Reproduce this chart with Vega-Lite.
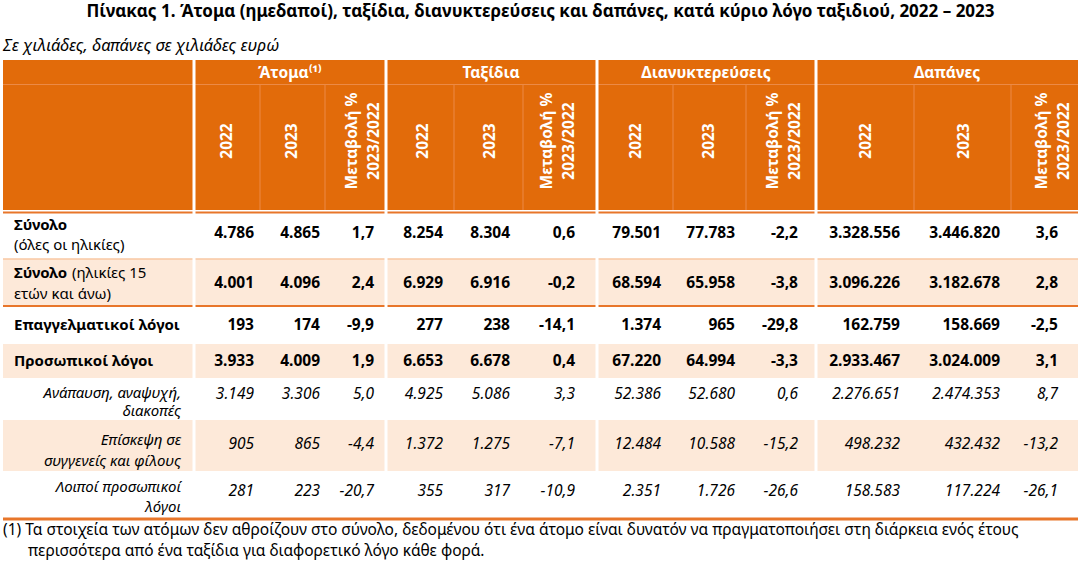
{
  "$schema": "https://vega.github.io/schema/vega-lite/v6.json",
  "width": 1081,
  "height": 561,
  "autosize": {"type": "fit", "contains": "padding"},
  "padding": 0,
  "background": "white",
  "config": {
    "view": {"stroke": null},
    "font": "Noto Sans",
    "axis": {"disable": true},
    "locale": {"number": {"decimal": ",", "thousands": ".", "grouping": [3], "currency": ["", " €"], "minus": "-"}}
  },
  "datasets": {
    "rows": [
      {"name": "Σύνολο", "desc1": null, "desc2": "(όλες οι ηλικίες)", "level": "total", "a22": 4786, "a23": 4865, "ach": 1.7, "t22": 8254, "t23": 8304, "tch": 0.6, "n22": 79501, "n23": 77783, "nch": -2.2, "d22": 3328556, "d23": 3446820, "dch": 3.6},
      {"name": "Σύνολο", "desc1": "(ηλικίες 15", "desc2": "ετών και άνω)", "level": "total", "a22": 4001, "a23": 4096, "ach": 2.4, "t22": 6929, "t23": 6916, "tch": -0.2, "n22": 68594, "n23": 65958, "nch": -3.8, "d22": 3096226, "d23": 3182678, "dch": 2.8},
      {"name": "Επαγγελματικοί λόγοι", "desc1": null, "desc2": null, "level": "main", "a22": 193, "a23": 174, "ach": -9.9, "t22": 277, "t23": 238, "tch": -14.1, "n22": 1374, "n23": 965, "nch": -29.8, "d22": 162759, "d23": 158669, "dch": -2.5},
      {"name": "Προσωπικοί λόγοι", "desc1": null, "desc2": null, "level": "main", "a22": 3933, "a23": 4009, "ach": 1.9, "t22": 6653, "t23": 6678, "tch": 0.4, "n22": 67220, "n23": 64994, "nch": -3.3, "d22": 2933467, "d23": 3024009, "dch": 3.1},
      {"name": "Ανάπαυση, αναψυχή,", "desc1": null, "desc2": "διακοπές", "level": "sub", "a22": 3149, "a23": 3306, "ach": 5.0, "t22": 4925, "t23": 5086, "tch": 3.3, "n22": 52386, "n23": 52680, "nch": 0.6, "d22": 2276651, "d23": 2474353, "dch": 8.7},
      {"name": "Επίσκεψη σε", "desc1": null, "desc2": "συγγενείς και φίλους", "level": "sub", "a22": 905, "a23": 865, "ach": -4.4, "t22": 1372, "t23": 1275, "tch": -7.1, "n22": 12484, "n23": 10588, "nch": -15.2, "d22": 498232, "d23": 432432, "dch": -13.2},
      {"name": "Λοιποί προσωπικοί", "desc1": null, "desc2": "λόγοι", "level": "sub", "a22": 281, "a23": 223, "ach": -20.7, "t22": 355, "t23": 317, "tch": -10.9, "n22": 2351, "n23": 1726, "nch": -26.6, "d22": 158583, "d23": 117224, "dch": -26.1}
    ],
    "cols": [
      {"key": "a22", "grp": "Άτομα⁽¹⁾", "head": "2022"},
      {"key": "a23", "grp": "Άτομα⁽¹⁾", "head": "2023"},
      {"key": "ach", "grp": "Άτομα⁽¹⁾", "head": ["Μεταβολή %", "2023/2022"]},
      {"key": "t22", "grp": "Ταξίδια", "head": "2022"},
      {"key": "t23", "grp": "Ταξίδια", "head": "2023"},
      {"key": "tch", "grp": "Ταξίδια", "head": ["Μεταβολή %", "2023/2022"]},
      {"key": "n22", "grp": "Διανυκτερεύσεις", "head": "2022"},
      {"key": "n23", "grp": "Διανυκτερεύσεις", "head": "2023"},
      {"key": "nch", "grp": "Διανυκτερεύσεις", "head": ["Μεταβολή %", "2023/2022"]},
      {"key": "d22", "grp": "Δαπάνες", "head": "2022"},
      {"key": "d23", "grp": "Δαπάνες", "head": "2023"},
      {"key": "dch", "grp": "Δαπάνες", "head": ["Μεταβολή %", "2023/2022"]}
    ],
    "notes": [
      {"text": "Πίνακας 1. Άτομα (ημεδαποί), ταξίδια, διανυκτερεύσεις και δαπάνες, κατά κύριο λόγο ταξιδιού, 2022 – 2023"},
      {"text": "Σε χιλιάδες, δαπάνες σε χιλιάδες ευρώ"},
      {"text": "(1) Τα στοιχεία των ατόμων δεν αθροίζουν στο σύνολο, δεδομένου ότι ένα άτομο είναι δυνατόν να πραγματοποιήσει στη διάρκεια ενός έτους"},
      {"text": "περισσότερα από ένα ταξίδια για διαφορετικό λόγο κάθε φορά."}
    ]
  },
  "resolve": {"scale": {"x": "independent", "y": "independent"}},
  "layer": [
    {
      "data": {"values": [{}]},
      "mark": {"type": "rect", "color": "#E26B0A"},
      "encoding": {
        "x": {"datum": 0, "type": "quantitative", "axis": null, "scale": {"domain": [0,1,2,3,4,5,6,7,8,9,10,11,12,13], "range": [3,194,260,325,386,454,523,597,673,746,816,914,1011,1078], "nice": false, "zero": false}},
        "x2": {"datum": 13},
        "y": {"datum": -3, "type": "quantitative", "axis": null, "scale": {"domain": [-3,-2,-1,0,1,2,3,4,5,6,7], "range": [60,84.5,210,212.5,259,306,344,378,420,471,519], "nice": false, "zero": false}},
        "y2": {"datum": -1}
      }
    },
    {
      "data": {"name": "rows"},
      "transform": [
        {"window": [{"op": "row_number", "as": "rn"}]},
        {"window": [{"op": "lag", "field": "rn", "as": "rtop"}], "sort": [{"field": "rn"}]},
        {"filter": "datum.rn % 2 == 0"}
      ],
      "mark": {"type": "rect", "color": "#FDE9D9"},
      "encoding": {
        "x": {"datum": 0, "type": "quantitative", "axis": null, "scale": {"domain": [0,1,2,3,4,5,6,7,8,9,10,11,12,13], "range": [3,194,260,325,386,454,523,597,673,746,816,914,1011,1078], "nice": false, "zero": false}},
        "x2": {"datum": 13},
        "y": {"field": "rtop", "type": "quantitative", "axis": null, "scale": {"domain": [-3,-2,-1,0,1,2,3,4,5,6,7], "range": [60,84.5,210,212.5,259,306,344,378,420,471,519], "nice": false, "zero": false}},
        "y2": {"field": "rn"}
      }
    },
    {
      "data": {"values": [{}]},
      "mark": {"type": "rule", "color": "#EC8A46", "strokeWidth": 1},
      "encoding": {
        "x": {"datum": 0, "type": "quantitative", "axis": null, "scale": {"domain": [0,1,2,3,4,5,6,7,8,9,10,11,12,13], "range": [3,194,260,325,386,454,523,597,673,746,816,914,1011,1078], "nice": false, "zero": false}},
        "x2": {"datum": 13},
        "y": {"datum": -2, "type": "quantitative", "axis": null, "scale": {"domain": [-3,-2,-1,0,1,2,3,4,5,6,7], "range": [60,84.5,210,212.5,259,306,344,378,420,471,519], "nice": false, "zero": false}}
      }
    },
    {
      "data": {"name": "cols"},
      "transform": [
        {"window": [{"op": "row_number", "as": "ci"}]},
        {"window": [{"op": "row_number", "as": "gi"}], "groupby": ["grp"]},
        {"filter": "datum.gi != 1"}
      ],
      "mark": {"type": "rule", "color": "#EC8A46", "strokeWidth": 1},
      "encoding": {
        "x": {"field": "ci", "type": "quantitative", "axis": null, "scale": {"domain": [0,1,2,3,4,5,6,7,8,9,10,11,12,13], "range": [3,194,260,325,386,454,523,597,673,746,816,914,1011,1078], "nice": false, "zero": false}},
        "y": {"datum": -2, "type": "quantitative", "axis": null, "scale": {"domain": [-3,-2,-1,0,1,2,3,4,5,6,7], "range": [60,84.5,210,212.5,259,306,344,378,420,471,519], "nice": false, "zero": false}},
        "y2": {"datum": -1}
      }
    },
    {
      "data": {"values": [{"edge": 0, "kind": "head"}, {"edge": 2, "kind": "total"}]},
      "mark": {"type": "rule", "color": "#E8762A", "strokeWidth": 2},
      "encoding": {
        "x": {"datum": 0, "type": "quantitative", "axis": null, "scale": {"domain": [0,1,2,3,4,5,6,7,8,9,10,11,12,13], "range": [3,194,260,325,386,454,523,597,673,746,816,914,1011,1078], "nice": false, "zero": false}},
        "x2": {"datum": 13},
        "y": {"field": "edge", "type": "quantitative", "axis": null, "scale": {"domain": [-3,-2,-1,0,1,2,3,4,5,6,7], "range": [60,84.5,210,212.5,259,306,344,378,420,471,519], "nice": false, "zero": false}}
      }
    },
    {
      "data": {"values": [{}]},
      "mark": {"type": "rule", "color": "#F8C7A2", "strokeWidth": 1.5},
      "encoding": {
        "x": {"datum": 0, "type": "quantitative", "axis": null, "scale": {"domain": [0,1,2,3,4,5,6,7,8,9,10,11,12,13], "range": [3,194,260,325,386,454,523,597,673,746,816,914,1011,1078], "nice": false, "zero": false}},
        "x2": {"datum": 13},
        "y": {"datum": 1, "type": "quantitative", "axis": null, "scale": {"domain": [-3,-2,-1,0,1,2,3,4,5,6,7], "range": [60,84.5,210,212.5,259,306,344,378,420,471,519], "nice": false, "zero": false}}
      }
    },
    {
      "data": {"name": "cols"},
      "transform": [
        {"window": [{"op": "row_number", "as": "ci"}]},
        {"window": [{"op": "row_number", "as": "gi"}], "groupby": ["grp"]},
        {"filter": "datum.gi == 1"}
      ],
      "mark": {"type": "rule", "color": "white", "strokeWidth": 3},
      "encoding": {
        "x": {"field": "ci", "type": "quantitative", "axis": null, "scale": {"domain": [0,1,2,3,4,5,6,7,8,9,10,11,12,13], "range": [3,194,260,325,386,454,523,597,673,746,816,914,1011,1078], "nice": false, "zero": false}},
        "y": {"datum": -3, "type": "quantitative", "axis": null, "scale": {"domain": [-3,-2,-1,0,1,2,3,4,5,6,7], "range": [60,84.5,210,212.5,259,306,344,378,420,471,519], "nice": false, "zero": false}},
        "y2": {"datum": 7}
      }
    },
    {
      "data": {"values": [{}]},
      "mark": {"type": "rule", "color": "#E8762A", "strokeWidth": 3},
      "encoding": {
        "x": {"datum": 0, "type": "quantitative", "axis": null, "scale": {"domain": [0,1,2,3,4,5,6,7,8,9,10,11,12,13], "range": [3,194,260,325,386,454,523,597,673,746,816,914,1011,1078], "nice": false, "zero": false}},
        "x2": {"datum": 13},
        "y": {"datum": 7, "type": "quantitative", "axis": null, "scale": {"domain": [-3,-2,-1,0,1,2,3,4,5,6,7], "range": [60,84.5,210,212.5,259,306,344,378,420,471,519], "nice": false, "zero": false}}
      }
    },
    {
      "data": {"name": "cols"},
      "transform": [
        {"window": [{"op": "row_number", "as": "ci"}]},
        {"window": [{"op": "row_number", "as": "gi"}], "groupby": ["grp"]},
        {"filter": "datum.gi == 2"}
      ],
      "mark": {"type": "text", "color": "white", "fontWeight": "bold", "fontSize": 15.5, "align": "center", "baseline": "middle"},
      "encoding": {
        "x": {"field": "ci", "type": "quantitative", "axis": null, "scale": {"domain": [2,5,8,11], "range": [290,491,706,947], "nice": false, "zero": false}},
        "y": {"datum": 0, "type": "quantitative", "axis": null, "scale": {"domain": [0,1], "range": [73,141], "nice": false, "zero": false}},
        "text": {"field": "grp"}
      }
    },
    {
      "data": {"name": "cols"},
      "transform": [{"window": [{"op": "row_number", "as": "ci"}]}],
      "mark": {"type": "text", "color": "white", "fontWeight": "bold", "fontSize": 15.5, "align": "center", "baseline": "middle", "angle": 270, "lineHeight": 22},
      "encoding": {
        "x": {"field": "ci", "type": "quantitative", "axis": null, "scale": {"domain": [1,2,3,4,5,6,7,8,9,10,11,12], "range": [227,292,351.5,423,490,547,636,709,773,866,964,1042], "nice": false, "zero": false}},
        "y": {"datum": 1, "type": "quantitative", "axis": null, "scale": {"domain": [0,1], "range": [73,141], "nice": false, "zero": false}},
        "text": {"field": "head"}
      }
    },
    {
      "data": {"name": "rows"},
      "transform": [{"window": [{"op": "row_number", "as": "rn"}]}, {"filter": "datum.level != 'sub'"}],
      "mark": {"type": "text", "color": "black", "fontWeight": "bold", "fontSize": 15, "align": "left", "baseline": "middle", "dx": 11},
      "encoding": {
        "x": {"datum": 0, "type": "quantitative", "axis": null, "scale": {"domain": [0,1,2,3,4,5,6,7,8,9,10,11,12,13], "range": [3,194,260,325,386,454,523,597,673,746,816,914,1011,1078], "nice": false, "zero": false}},
        "y": {"field": "rn", "type": "quantitative", "axis": null, "scale": {"domain": [1,2,3,4,5,6,7], "range": [225,273,325,361,393,440,487], "nice": false, "zero": false}},
        "text": {"field": "name"}
      }
    },
    {
      "data": {"name": "rows"},
      "transform": [{"window": [{"op": "row_number", "as": "rn"}]}, {"filter": "isValid(datum.desc1)"}],
      "mark": {"type": "text", "color": "black", "fontSize": 15, "align": "left", "baseline": "middle", "dx": 69},
      "encoding": {
        "x": {"datum": 0, "type": "quantitative", "axis": null, "scale": {"domain": [0,1,2,3,4,5,6,7,8,9,10,11,12,13], "range": [3,194,260,325,386,454,523,597,673,746,816,914,1011,1078], "nice": false, "zero": false}},
        "y": {"field": "rn", "type": "quantitative", "axis": null, "scale": {"domain": [1,2,3,4,5,6,7], "range": [225,273,325,361,393,440,487], "nice": false, "zero": false}},
        "text": {"field": "desc1"}
      }
    },
    {
      "data": {"name": "rows"},
      "transform": [{"window": [{"op": "row_number", "as": "rn"}]}, {"filter": "datum.level == 'total'"}],
      "mark": {"type": "text", "color": "black", "fontSize": 15, "align": "left", "baseline": "middle", "dx": 11},
      "encoding": {
        "x": {"datum": 0, "type": "quantitative", "axis": null, "scale": {"domain": [0,1,2,3,4,5,6,7,8,9,10,11,12,13], "range": [3,194,260,325,386,454,523,597,673,746,816,914,1011,1078], "nice": false, "zero": false}},
        "y": {"field": "rn", "type": "quantitative", "axis": null, "scale": {"domain": [1,2,5,6,7], "range": [245,294,411,461,507], "nice": false, "zero": false}},
        "text": {"field": "desc2"}
      }
    },
    {
      "data": {"name": "rows"},
      "transform": [{"window": [{"op": "row_number", "as": "rn"}]}, {"filter": "datum.level == 'sub'"}],
      "mark": {"type": "text", "color": "black", "fontStyle": "italic", "fontSize": 15, "align": "right", "baseline": "middle", "dx": -13},
      "encoding": {
        "x": {"datum": 1, "type": "quantitative", "axis": null, "scale": {"domain": [0,1,2,3,4,5,6,7,8,9,10,11,12,13], "range": [3,194,260,325,386,454,523,597,673,746,816,914,1011,1078], "nice": false, "zero": false}},
        "y": {"field": "rn", "type": "quantitative", "axis": null, "scale": {"domain": [1,2,3,4,5,6,7], "range": [225,273,325,361,393,440,487], "nice": false, "zero": false}},
        "text": {"field": "name"}
      }
    },
    {
      "data": {"name": "rows"},
      "transform": [{"window": [{"op": "row_number", "as": "rn"}]}, {"filter": "datum.level == 'sub'"}],
      "mark": {"type": "text", "color": "black", "fontStyle": "italic", "fontSize": 15, "align": "right", "baseline": "middle", "dx": -13},
      "encoding": {
        "x": {"datum": 1, "type": "quantitative", "axis": null, "scale": {"domain": [0,1,2,3,4,5,6,7,8,9,10,11,12,13], "range": [3,194,260,325,386,454,523,597,673,746,816,914,1011,1078], "nice": false, "zero": false}},
        "y": {"field": "rn", "type": "quantitative", "axis": null, "scale": {"domain": [1,2,5,6,7], "range": [245,294,411,461,507], "nice": false, "zero": false}},
        "text": {"field": "desc2"}
      }
    },
    {
      "data": {"name": "rows"},
      "transform": [
        {"window": [{"op": "row_number", "as": "rn"}]},
        {"fold": ["a22","a23","ach","t22","t23","tch","n22","n23","nch","d22","d23","dch"], "as": ["key", "value"]},
        {"window": [{"op": "row_number", "as": "ci"}], "groupby": ["rn"]},
        {"filter": "datum.level != 'sub' && indexof(['ach','tch','nch','dch'], datum.key) < 0"}
      ],
      "mark": {"type": "text", "color": "black", "fontWeight": "bold", "fontSize": 15.5, "align": "right", "baseline": "middle"},
      "encoding": {
        "x": {"field": "ci", "type": "quantitative", "axis": null, "scale": {"domain": [1,2,3,4,5,6,7,8,9,10,11,12], "range": [254,320,374,443,510,575,661,735,798,900,1000,1058], "nice": false, "zero": false}},
        "y": {"field": "rn", "type": "quantitative", "axis": null, "scale": {"domain": [1,2,3,4,5,6,7], "range": [233,283,325,361,394,444,491], "nice": false, "zero": false}},
        "text": {"field": "value", "type": "quantitative", "format": ",d"}
      }
    },
    {
      "data": {"name": "rows"},
      "transform": [
        {"window": [{"op": "row_number", "as": "rn"}]},
        {"fold": ["a22","a23","ach","t22","t23","tch","n22","n23","nch","d22","d23","dch"], "as": ["key", "value"]},
        {"window": [{"op": "row_number", "as": "ci"}], "groupby": ["rn"]},
        {"filter": "datum.level != 'sub' && indexof(['ach','tch','nch','dch'], datum.key) >= 0"}
      ],
      "mark": {"type": "text", "color": "black", "fontWeight": "bold", "fontSize": 15.5, "align": "right", "baseline": "middle"},
      "encoding": {
        "x": {"field": "ci", "type": "quantitative", "axis": null, "scale": {"domain": [1,2,3,4,5,6,7,8,9,10,11,12], "range": [254,320,374,443,510,575,661,735,798,900,1000,1058], "nice": false, "zero": false}},
        "y": {"field": "rn", "type": "quantitative", "axis": null, "scale": {"domain": [1,2,3,4,5,6,7], "range": [233,283,325,361,394,444,491], "nice": false, "zero": false}},
        "text": {"field": "value", "type": "quantitative", "format": ",.1f"}
      }
    },
    {
      "data": {"name": "rows"},
      "transform": [
        {"window": [{"op": "row_number", "as": "rn"}]},
        {"fold": ["a22","a23","ach","t22","t23","tch","n22","n23","nch","d22","d23","dch"], "as": ["key", "value"]},
        {"window": [{"op": "row_number", "as": "ci"}], "groupby": ["rn"]},
        {"filter": "datum.level == 'sub' && indexof(['ach','tch','nch','dch'], datum.key) < 0"}
      ],
      "mark": {"type": "text", "color": "black", "fontStyle": "italic", "fontSize": 15.5, "align": "right", "baseline": "middle"},
      "encoding": {
        "x": {"field": "ci", "type": "quantitative", "axis": null, "scale": {"domain": [1,2,3,4,5,6,7,8,9,10,11,12], "range": [254,320,374,443,510,575,661,735,798,900,1000,1058], "nice": false, "zero": false}},
        "y": {"field": "rn", "type": "quantitative", "axis": null, "scale": {"domain": [1,2,3,4,5,6,7], "range": [233,283,325,361,394,444,491], "nice": false, "zero": false}},
        "text": {"field": "value", "type": "quantitative", "format": ",d"}
      }
    },
    {
      "data": {"name": "rows"},
      "transform": [
        {"window": [{"op": "row_number", "as": "rn"}]},
        {"fold": ["a22","a23","ach","t22","t23","tch","n22","n23","nch","d22","d23","dch"], "as": ["key", "value"]},
        {"window": [{"op": "row_number", "as": "ci"}], "groupby": ["rn"]},
        {"filter": "datum.level == 'sub' && indexof(['ach','tch','nch','dch'], datum.key) >= 0"}
      ],
      "mark": {"type": "text", "color": "black", "fontStyle": "italic", "fontSize": 15.5, "align": "right", "baseline": "middle"},
      "encoding": {
        "x": {"field": "ci", "type": "quantitative", "axis": null, "scale": {"domain": [1,2,3,4,5,6,7,8,9,10,11,12], "range": [254,320,374,443,510,575,661,735,798,900,1000,1058], "nice": false, "zero": false}},
        "y": {"field": "rn", "type": "quantitative", "axis": null, "scale": {"domain": [1,2,3,4,5,6,7], "range": [233,283,325,361,394,444,491], "nice": false, "zero": false}},
        "text": {"field": "value", "type": "quantitative", "format": ",.1f"}
      }
    },
    {
      "data": {"name": "notes"},
      "transform": [{"window": [{"op": "row_number", "as": "ln"}]}, {"filter": "datum.ln == 1"}],
      "mark": {"type": "text", "color": "black", "fontWeight": "bold", "fontSize": 17, "align": "center", "baseline": "middle"},
      "encoding": {
        "x": {"datum": 0.5, "type": "quantitative", "axis": null, "scale": {"domain": [0, 1], "range": [3, 1078], "nice": false, "zero": false}},
        "y": {"field": "ln", "type": "quantitative", "axis": null, "scale": {"domain": [1,2,3,4], "range": [12,46,530,551], "nice": false, "zero": false}},
        "text": {"field": "text"}
      }
    },
    {
      "data": {"name": "notes"},
      "transform": [{"window": [{"op": "row_number", "as": "ln"}]}, {"filter": "datum.ln == 2"}],
      "mark": {"type": "text", "color": "black", "fontStyle": "italic", "fontSize": 16.5, "align": "left", "baseline": "middle"},
      "encoding": {
        "x": {"datum": 0, "type": "quantitative", "axis": null, "scale": {"domain": [0, 1], "range": [3, 1078], "nice": false, "zero": false}},
        "y": {"field": "ln", "type": "quantitative", "axis": null, "scale": {"domain": [1,2,3,4], "range": [12,46,530,551], "nice": false, "zero": false}},
        "text": {"field": "text"}
      }
    },
    {
      "data": {"name": "notes"},
      "transform": [{"window": [{"op": "row_number", "as": "ln"}]}, {"filter": "datum.ln == 3"}],
      "mark": {"type": "text", "color": "black", "fontSize": 15.5, "align": "left", "baseline": "middle"},
      "encoding": {
        "x": {"datum": 0, "type": "quantitative", "axis": null, "scale": {"domain": [0, 1], "range": [3, 1078], "nice": false, "zero": false}},
        "y": {"field": "ln", "type": "quantitative", "axis": null, "scale": {"domain": [1,2,3,4], "range": [12,46,530,551], "nice": false, "zero": false}},
        "text": {"field": "text"}
      }
    },
    {
      "data": {"name": "notes"},
      "transform": [{"window": [{"op": "row_number", "as": "ln"}]}, {"filter": "datum.ln == 4"}],
      "mark": {"type": "text", "color": "black", "fontSize": 15.5, "align": "left", "baseline": "middle", "dx": 25},
      "encoding": {
        "x": {"datum": 0, "type": "quantitative", "axis": null, "scale": {"domain": [0, 1], "range": [3, 1078], "nice": false, "zero": false}},
        "y": {"field": "ln", "type": "quantitative", "axis": null, "scale": {"domain": [1,2,3,4], "range": [12,46,530,551], "nice": false, "zero": false}},
        "text": {"field": "text"}
      }
    }
  ]
}
